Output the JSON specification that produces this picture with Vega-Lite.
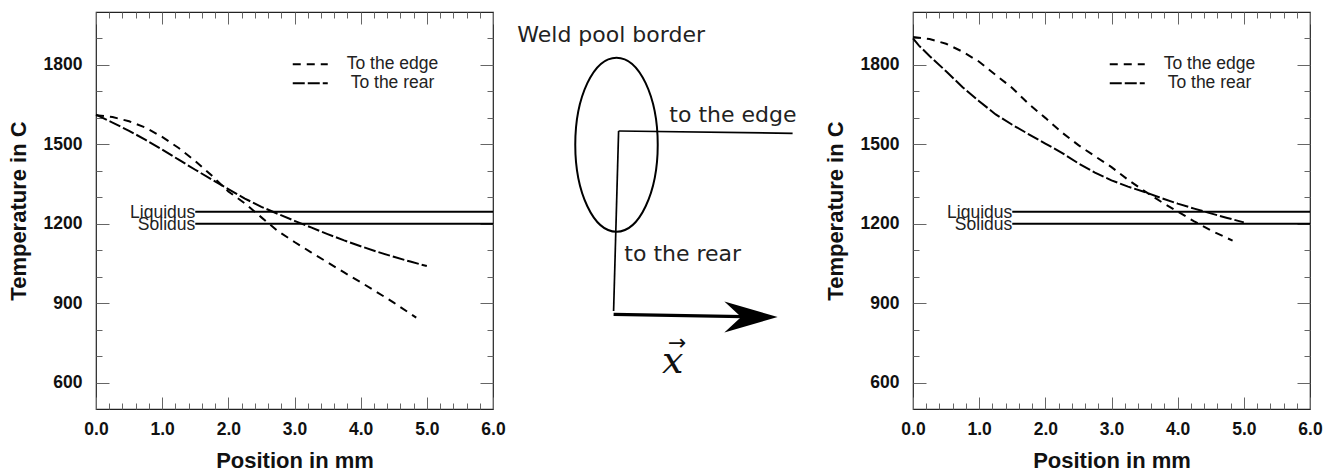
{
  "$schema": "https://vega.github.io/schema/vega-lite/v6.json",
  "background": "white",
  "padding": {"left": 6, "top": 10, "right": 0, "bottom": 0},
  "bounds": "flush",
  "spacing": 0,
  "config": {
    "font": "Liberation Sans",
    "view": {"stroke": "#222", "strokeWidth": 1.2}
  },
  "datasets": {
    "curves": [
      {"panel": "left", "series": "To the edge", "x": 0, "t": 1610},
      {"panel": "left", "series": "To the edge", "x": 0.25, "t": 1603},
      {"panel": "left", "series": "To the edge", "x": 0.5, "t": 1587},
      {"panel": "left", "series": "To the edge", "x": 0.75, "t": 1563},
      {"panel": "left", "series": "To the edge", "x": 1.0, "t": 1528},
      {"panel": "left", "series": "To the edge", "x": 1.25, "t": 1486},
      {"panel": "left", "series": "To the edge", "x": 1.5, "t": 1437},
      {"panel": "left", "series": "To the edge", "x": 1.75, "t": 1382},
      {"panel": "left", "series": "To the edge", "x": 2.0, "t": 1322},
      {"panel": "left", "series": "To the edge", "x": 2.25, "t": 1277},
      {"panel": "left", "series": "To the edge", "x": 2.5, "t": 1224},
      {"panel": "left", "series": "To the edge", "x": 2.75, "t": 1172},
      {"panel": "left", "series": "To the edge", "x": 3.0, "t": 1131},
      {"panel": "left", "series": "To the edge", "x": 3.25, "t": 1092},
      {"panel": "left", "series": "To the edge", "x": 3.5, "t": 1054},
      {"panel": "left", "series": "To the edge", "x": 3.75, "t": 1016},
      {"panel": "left", "series": "To the edge", "x": 4.0, "t": 979},
      {"panel": "left", "series": "To the edge", "x": 4.25, "t": 941},
      {"panel": "left", "series": "To the edge", "x": 4.5, "t": 902},
      {"panel": "left", "series": "To the edge", "x": 4.84, "t": 845},
      {"panel": "left", "series": "To the rear", "x": 0, "t": 1612},
      {"panel": "left", "series": "To the rear", "x": 0.25, "t": 1582},
      {"panel": "left", "series": "To the rear", "x": 0.5, "t": 1551},
      {"panel": "left", "series": "To the rear", "x": 0.75, "t": 1517},
      {"panel": "left", "series": "To the rear", "x": 1.0, "t": 1480},
      {"panel": "left", "series": "To the rear", "x": 1.25, "t": 1442},
      {"panel": "left", "series": "To the rear", "x": 1.5, "t": 1404},
      {"panel": "left", "series": "To the rear", "x": 1.75, "t": 1367},
      {"panel": "left", "series": "To the rear", "x": 2.0, "t": 1331},
      {"panel": "left", "series": "To the rear", "x": 2.25, "t": 1295},
      {"panel": "left", "series": "To the rear", "x": 2.5, "t": 1264},
      {"panel": "left", "series": "To the rear", "x": 2.75, "t": 1237},
      {"panel": "left", "series": "To the rear", "x": 3.0, "t": 1211},
      {"panel": "left", "series": "To the rear", "x": 3.25, "t": 1186},
      {"panel": "left", "series": "To the rear", "x": 3.5, "t": 1161},
      {"panel": "left", "series": "To the rear", "x": 3.75, "t": 1137},
      {"panel": "left", "series": "To the rear", "x": 4.0, "t": 1115},
      {"panel": "left", "series": "To the rear", "x": 4.25, "t": 1094},
      {"panel": "left", "series": "To the rear", "x": 4.5, "t": 1075},
      {"panel": "left", "series": "To the rear", "x": 4.75, "t": 1057},
      {"panel": "left", "series": "To the rear", "x": 5.0, "t": 1040},
      {"panel": "right", "series": "To the edge", "x": 0, "t": 1906},
      {"panel": "right", "series": "To the edge", "x": 0.25, "t": 1898},
      {"panel": "right", "series": "To the edge", "x": 0.5, "t": 1880},
      {"panel": "right", "series": "To the edge", "x": 0.75, "t": 1850},
      {"panel": "right", "series": "To the edge", "x": 1.0, "t": 1812},
      {"panel": "right", "series": "To the edge", "x": 1.25, "t": 1762},
      {"panel": "right", "series": "To the edge", "x": 1.5, "t": 1713},
      {"panel": "right", "series": "To the edge", "x": 1.75, "t": 1652},
      {"panel": "right", "series": "To the edge", "x": 2.0, "t": 1600},
      {"panel": "right", "series": "To the edge", "x": 2.25, "t": 1545},
      {"panel": "right", "series": "To the edge", "x": 2.5, "t": 1497},
      {"panel": "right", "series": "To the edge", "x": 2.75, "t": 1455},
      {"panel": "right", "series": "To the edge", "x": 3.0, "t": 1414},
      {"panel": "right", "series": "To the edge", "x": 3.25, "t": 1366},
      {"panel": "right", "series": "To the edge", "x": 3.5, "t": 1323},
      {"panel": "right", "series": "To the edge", "x": 3.75, "t": 1283},
      {"panel": "right", "series": "To the edge", "x": 4.0, "t": 1246},
      {"panel": "right", "series": "To the edge", "x": 4.25, "t": 1209},
      {"panel": "right", "series": "To the edge", "x": 4.5, "t": 1175},
      {"panel": "right", "series": "To the edge", "x": 4.83, "t": 1136},
      {"panel": "right", "series": "To the rear", "x": 0, "t": 1900},
      {"panel": "right", "series": "To the rear", "x": 0.09, "t": 1873},
      {"panel": "right", "series": "To the rear", "x": 0.25, "t": 1834},
      {"panel": "right", "series": "To the rear", "x": 0.5, "t": 1776},
      {"panel": "right", "series": "To the rear", "x": 0.75, "t": 1716},
      {"panel": "right", "series": "To the rear", "x": 1.0, "t": 1663},
      {"panel": "right", "series": "To the rear", "x": 1.25, "t": 1613},
      {"panel": "right", "series": "To the rear", "x": 1.5, "t": 1574},
      {"panel": "right", "series": "To the rear", "x": 1.75, "t": 1538},
      {"panel": "right", "series": "To the rear", "x": 2.0, "t": 1503},
      {"panel": "right", "series": "To the rear", "x": 2.25, "t": 1468},
      {"panel": "right", "series": "To the rear", "x": 2.5, "t": 1428},
      {"panel": "right", "series": "To the rear", "x": 2.75, "t": 1393},
      {"panel": "right", "series": "To the rear", "x": 3.0, "t": 1364},
      {"panel": "right", "series": "To the rear", "x": 3.25, "t": 1340},
      {"panel": "right", "series": "To the rear", "x": 3.5, "t": 1320},
      {"panel": "right", "series": "To the rear", "x": 3.75, "t": 1297},
      {"panel": "right", "series": "To the rear", "x": 4.0, "t": 1276},
      {"panel": "right", "series": "To the rear", "x": 4.25, "t": 1257},
      {"panel": "right", "series": "To the rear", "x": 4.5, "t": 1239},
      {"panel": "right", "series": "To the rear", "x": 4.75, "t": 1222},
      {"panel": "right", "series": "To the rear", "x": 5.0, "t": 1205}
    ],
    "levels": [
      {"label": "Liquidus", "t": 1245, "from": 1.5, "to": 6},
      {"label": "Solidus", "t": 1200, "from": 1.5, "to": 6}
    ],
    "pool": [{"px": 123.5, "py": 132.7}],
    "paths": [
      {"seg": "edge", "o": 1, "px": 125.6, "py": 119},
      {"seg": "edge", "o": 2, "px": 299.6, "py": 121.3},
      {"seg": "rear", "o": 1, "px": 125.6, "py": 119},
      {"seg": "rear", "o": 2, "px": 120.6, "py": 299}
    ],
    "shaft": [
      {"o": 1, "px": 120.6, "py": 302.3},
      {"o": 2, "px": 250, "py": 304.7}
    ],
    "head": [{"px": 258, "py": 305}],
    "notes": [
      {"text": "Weld pool border", "px": 24.3, "py": 29.7},
      {"text": "to the edge", "px": 176.3, "py": 110},
      {"text": "to the rear", "px": 131.3, "py": 249}
    ],
    "vecx": [{"text": "x", "px": 179.6, "py": 360.7}],
    "vecarrow": [{"text": "→", "px": 184.3, "py": 331}]
  },
  "resolve": {
    "scale": {"strokeDash": "independent"},
    "legend": {"strokeDash": "independent"}
  },
  "hconcat": [
    {
      "width": 397,
      "height": 397,
      "layer": [
        {
          "data": {"name": "curves"},
          "transform": [{"filter": "datum.panel === 'left'"}],
          "mark": {"type": "line", "color": "black", "strokeWidth": 2},
          "encoding": {
            "x": {
              "field": "x", "type": "quantitative",
              "scale": {"domain": [0, 6], "nice": false, "zero": false},
              "axis": {
                "orient": "bottom", "title": "Position in mm",
                "values": [0,0.2,0.4,0.6,0.8,1,1.2,1.4,1.6,1.8,2,2.2,2.4,2.6,2.8,3,3.2,3.4,3.6,3.8,4,4.2,4.4,4.6,4.8,5,5.2,5.4,5.6,5.8,6],
                "labelExpr": "abs(datum.value - round(datum.value)) < 0.01 ? format(datum.value, '.1f') : ''",
                "tickSize": {"condition": {"test": "abs(datum.value - round(datum.value)) < 0.01", "value": -12}, "value": -6},
                "labelPadding": 23, "labelFontSize": 17.5, "labelFontWeight": "bold", "labelColor": "#111",
                "labelFlush": false, "labelOverlap": false,
                "domain": false, "grid": false, "tickColor": "#666", "tickWidth": 1,
                "titleFontSize": 22, "titleFontWeight": "bold", "titleColor": "#111", "titlePadding": 7
              }
            },
            "y": {
              "field": "t", "type": "quantitative",
              "scale": {"domain": [500, 2000], "nice": false, "zero": false},
              "axis": {
                "orient": "left", "title": "Temperature in C",
                "values": [600,700,800,900,1000,1100,1200,1300,1400,1500,1600,1700,1800,1900],
                "labelExpr": "datum.value % 300 === 0 ? format(datum.value, 'd') : ''",
                "tickSize": {"condition": {"test": "datum.value % 300 === 0", "value": -13}, "value": -6},
                "labelPadding": 27, "labelFontSize": 17.5, "labelFontWeight": "bold", "labelColor": "#111",
                "labelOverlap": false,
                "domain": false, "grid": false, "tickColor": "#666", "tickWidth": 1,
                "titleFontSize": 22, "titleFontWeight": "bold", "titleColor": "#111", "titlePadding": 13
              }
            },
            "strokeDash": {
              "field": "series", "type": "nominal",
              "scale": {"domain": ["To the edge", "To the rear"], "range": [[8, 6], [12, 3]]},
              "legend": {
                "orient": "none", "legendX": 205.5, "legendY": 43.5, "title": null, "padding": 0,
                "symbolType": "M-3.5,0H3.5", "symbolSize": 100, "symbolStrokeWidth": 2, "symbolStrokeColor": "black",
                "labelFont": "Liberation Sans", "labelFontSize": 17.5, "labelColor": "#222",
                "labelAlign": "center", "labelOffset": 73.5, "rowPadding": 0
              }
            }
          }
        },
        {
          "data": {"name": "levels"},
          "mark": {"type": "rule", "color": "black", "strokeWidth": 2},
          "encoding": {
            "x": {
              "field": "from", "type": "quantitative",
              "axis": {
                "orient": "top", "title": null, "labels": false,
                "values": [0,0.2,0.4,0.6,0.8,1,1.2,1.4,1.6,1.8,2,2.2,2.4,2.6,2.8,3,3.2,3.4,3.6,3.8,4,4.2,4.4,4.6,4.8,5,5.2,5.4,5.6,5.8,6],
                "tickSize": {"condition": {"test": "abs(datum.value - round(datum.value)) < 0.01", "value": -12}, "value": -6},
                "domain": false, "grid": false, "tickColor": "#666", "tickWidth": 1
              }
            },
            "x2": {"field": "to"},
            "y": {
              "field": "t", "type": "quantitative",
              "axis": {
                "orient": "right", "title": null, "labels": false,
                "values": [600,700,800,900,1000,1100,1200,1300,1400,1500,1600,1700,1800,1900],
                "tickSize": {"condition": {"test": "datum.value % 300 === 0", "value": -13}, "value": -6},
                "domain": false, "grid": false, "tickColor": "#666", "tickWidth": 1
              }
            }
          }
        },
        {
          "data": {"name": "levels"},
          "mark": {"type": "text", "align": "right", "baseline": "middle", "dy": 1, "fontSize": 17.5, "font": "Liberation Sans", "color": "#222"},
          "encoding": {
            "x": {"field": "from", "type": "quantitative", "axis": null},
            "y": {"field": "t", "type": "quantitative", "axis": null},
            "text": {"field": "label"}
          }
        }
      ],
      "resolve": {"axis": {"x": "independent", "y": "independent"}}
    },
    {
      "width": 420,
      "height": 397,
      "view": {"stroke": null},
      "layer": [
        {
          "data": {"name": "pool"},
          "mark": {"type": "point", "shape": "M0,-1A0.474,1 0 1 1 0,1A0.474,1 0 1 1 0,-1Z", "size": 30276, "filled": false, "stroke": "black", "strokeWidth": 2, "opacity": 1},
          "encoding": {
            "x": {"field": "px", "type": "quantitative", "scale": {"domain": [0, 420], "nice": false, "zero": false}, "axis": null},
            "y": {"field": "py", "type": "quantitative", "scale": {"domain": [0, 397], "nice": false, "zero": false, "reverse": true}, "axis": null}
          }
        },
        {
          "data": {"name": "paths"},
          "mark": {"type": "line", "color": "black", "strokeWidth": 1.7},
          "encoding": {
            "x": {"field": "px", "type": "quantitative", "axis": null},
            "y": {"field": "py", "type": "quantitative", "axis": null},
            "detail": {"field": "seg"},
            "order": {"field": "o"}
          }
        },
        {
          "data": {"name": "shaft"},
          "mark": {"type": "line", "color": "black", "strokeWidth": 3.2},
          "encoding": {
            "x": {"field": "px", "type": "quantitative", "axis": null},
            "y": {"field": "py", "type": "quantitative", "axis": null},
            "order": {"field": "o"}
          }
        },
        {
          "data": {"name": "head"},
          "mark": {"type": "point", "shape": "M1,0L-1,-0.58L-0.37,0L-1,0.58Z", "size": 2841, "filled": true, "color": "black", "opacity": 1, "strokeWidth": 0},
          "encoding": {
            "x": {"field": "px", "type": "quantitative", "axis": null},
            "y": {"field": "py", "type": "quantitative", "axis": null}
          }
        },
        {
          "data": {"name": "notes"},
          "mark": {"type": "text", "align": "left", "baseline": "alphabetic", "font": "DejaVu Sans", "fontSize": 22, "color": "#222"},
          "encoding": {
            "x": {"field": "px", "type": "quantitative", "axis": null},
            "y": {"field": "py", "type": "quantitative", "axis": null},
            "text": {"field": "text"}
          }
        },
        {
          "data": {"name": "vecx"},
          "mark": {"type": "text", "align": "center", "baseline": "alphabetic", "font": "DejaVu Serif", "fontStyle": "italic", "fontSize": 38, "color": "#111"},
          "encoding": {
            "x": {"field": "px", "type": "quantitative", "axis": null},
            "y": {"field": "py", "type": "quantitative", "axis": null},
            "text": {"field": "text"}
          }
        },
        {
          "data": {"name": "vecarrow"},
          "mark": {"type": "text", "align": "center", "baseline": "middle", "font": "DejaVu Sans", "fontSize": 22, "color": "#111"},
          "encoding": {
            "x": {"field": "px", "type": "quantitative", "axis": null},
            "y": {"field": "py", "type": "quantitative", "axis": null},
            "text": {"field": "text"}
          }
        }
      ]
    },
    {
      "width": 397,
      "height": 397,
      "layer": [
        {
          "data": {"name": "curves"},
          "transform": [{"filter": "datum.panel === 'right'"}],
          "mark": {"type": "line", "color": "black", "strokeWidth": 2},
          "encoding": {
            "x": {
              "field": "x", "type": "quantitative",
              "scale": {"domain": [0, 6], "nice": false, "zero": false},
              "axis": {
                "orient": "bottom", "title": "Position in mm",
                "values": [0,0.2,0.4,0.6,0.8,1,1.2,1.4,1.6,1.8,2,2.2,2.4,2.6,2.8,3,3.2,3.4,3.6,3.8,4,4.2,4.4,4.6,4.8,5,5.2,5.4,5.6,5.8,6],
                "labelExpr": "abs(datum.value - round(datum.value)) < 0.01 ? format(datum.value, '.1f') : ''",
                "tickSize": {"condition": {"test": "abs(datum.value - round(datum.value)) < 0.01", "value": -12}, "value": -6},
                "labelPadding": 23, "labelFontSize": 17.5, "labelFontWeight": "bold", "labelColor": "#111",
                "labelFlush": false, "labelOverlap": false,
                "domain": false, "grid": false, "tickColor": "#666", "tickWidth": 1,
                "titleFontSize": 22, "titleFontWeight": "bold", "titleColor": "#111", "titlePadding": 7
              }
            },
            "y": {
              "field": "t", "type": "quantitative",
              "scale": {"domain": [500, 2000], "nice": false, "zero": false},
              "axis": {
                "orient": "left", "title": "Temperature in C",
                "values": [600,700,800,900,1000,1100,1200,1300,1400,1500,1600,1700,1800,1900],
                "labelExpr": "datum.value % 300 === 0 ? format(datum.value, 'd') : ''",
                "tickSize": {"condition": {"test": "datum.value % 300 === 0", "value": -13}, "value": -6},
                "labelPadding": 27, "labelFontSize": 17.5, "labelFontWeight": "bold", "labelColor": "#111",
                "labelOverlap": false,
                "domain": false, "grid": false, "tickColor": "#666", "tickWidth": 1,
                "titleFontSize": 22, "titleFontWeight": "bold", "titleColor": "#111", "titlePadding": 13
              }
            },
            "strokeDash": {
              "field": "series", "type": "nominal",
              "scale": {"domain": ["To the edge", "To the rear"], "range": [[8, 6], [12, 3]]},
              "legend": {
                "orient": "none", "legendX": 205.5, "legendY": 43.5, "title": null, "padding": 0,
                "symbolType": "M-3.5,0H3.5", "symbolSize": 100, "symbolStrokeWidth": 2, "symbolStrokeColor": "black",
                "labelFont": "Liberation Sans", "labelFontSize": 17.5, "labelColor": "#222",
                "labelAlign": "center", "labelOffset": 73.5, "rowPadding": 0
              }
            }
          }
        },
        {
          "data": {"name": "levels"},
          "mark": {"type": "rule", "color": "black", "strokeWidth": 2},
          "encoding": {
            "x": {
              "field": "from", "type": "quantitative",
              "axis": {
                "orient": "top", "title": null, "labels": false,
                "values": [0,0.2,0.4,0.6,0.8,1,1.2,1.4,1.6,1.8,2,2.2,2.4,2.6,2.8,3,3.2,3.4,3.6,3.8,4,4.2,4.4,4.6,4.8,5,5.2,5.4,5.6,5.8,6],
                "tickSize": {"condition": {"test": "abs(datum.value - round(datum.value)) < 0.01", "value": -12}, "value": -6},
                "domain": false, "grid": false, "tickColor": "#666", "tickWidth": 1
              }
            },
            "x2": {"field": "to"},
            "y": {
              "field": "t", "type": "quantitative",
              "axis": {
                "orient": "right", "title": null, "labels": false,
                "values": [600,700,800,900,1000,1100,1200,1300,1400,1500,1600,1700,1800,1900],
                "tickSize": {"condition": {"test": "datum.value % 300 === 0", "value": -13}, "value": -6},
                "domain": false, "grid": false, "tickColor": "#666", "tickWidth": 1
              }
            }
          }
        },
        {
          "data": {"name": "levels"},
          "mark": {"type": "text", "align": "right", "baseline": "middle", "dy": 1, "fontSize": 17.5, "font": "Liberation Sans", "color": "#222"},
          "encoding": {
            "x": {"field": "from", "type": "quantitative", "axis": null},
            "y": {"field": "t", "type": "quantitative", "axis": null},
            "text": {"field": "label"}
          }
        }
      ],
      "resolve": {"axis": {"x": "independent", "y": "independent"}}
    }
  ]
}
